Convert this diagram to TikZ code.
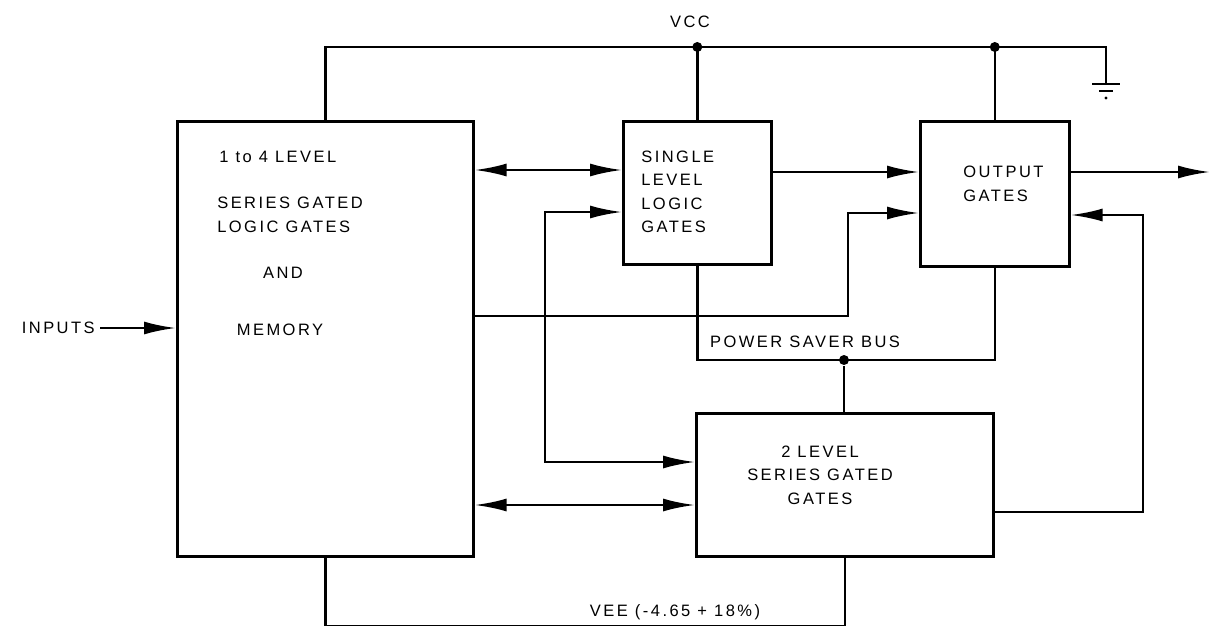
\documentclass[tikz,border=0pt]{standalone}
\usepackage{fontspec}
\setmainfont{Liberation Sans}[LetterSpace=15]
\usetikzlibrary{positioning}
\usetikzlibrary{calc}
\usetikzlibrary{arrows.meta}

\begin{document}
\begin{tikzpicture}[x=1pt, y=-1pt, line width=2.6pt,
    >={Latex[length=32pt,width=13pt]},
    block/.style={draw, line width=2.6pt, anchor=north west, inner sep=0pt},
    lbl/.style={font=\fontsize{16.5}{23.5}\selectfont, inner sep=0pt},
    junction/.style={circle, fill, inner sep=0pt, minimum size=10pt}]
\useasboundingbox (0,0) rectangle (1212,626);

% --- blocks ---
\node[block, minimum width=296pt, minimum height=435pt] (mem) at (176,120) {};
\node[block, minimum width=148pt, minimum height=143pt] (single) at (622,120) {};
\node[block, minimum width=149pt, minimum height=145pt] (outg) at (919,120) {};
\node[block, minimum width=297pt, minimum height=143pt] (twolvl) at (695,412) {};

% --- texts ---
\node[lbl, anchor=west] (memA) at (218,157) {1 to 4 LEVEL};
\node[lbl, anchor=west, align=left] (memB) at (216,215) {SERIES GATED\\LOGIC GATES};
\node[lbl] (memC) at (283,273) {AND};
\node[lbl] (memD) at (280,330) {MEMORY};
\node[lbl, anchor=west, align=left] (singleT) at (640,192) {SINGLE\\LEVEL\\LOGIC\\GATES};
\node[lbl, anchor=west, align=left] (outT) at (962,184) {OUTPUT\\GATES};
\node[lbl, align=center] (twolvlT) at (820,475) {2 LEVEL\\SERIES GATED\\GATES};
\node[lbl, anchor=east] (inputs) at (96,328) {INPUTS};
\node[lbl] (vcc) at (690,22) {VCC};
\node[lbl] (bus) at (805,342) {POWER SAVER BUS};
\node[lbl] (vee) at (675,612) {VEE (-4.65 + 18\%)};

% --- VCC rail and ground ---
\coordinate (vccL) at (324,47);
\coordinate (gnd) at (1106,84);
\draw (mem.north) |- (vccL) -| (gnd);
\draw (single.north) -- (single.north |- vccL) node[junction] (vccA) {};
\draw (outg.north) -- (outg.north |- vccL) node[junction] (vccB) {};
\draw[line width=2pt] ([xshift=-14pt]gnd) -- ([xshift=14pt]gnd);
\draw[line width=2pt] ([shift={(-7,7)}]gnd) -- ([shift={(7,7)}]gnd);
\fill ([yshift=-14pt]gnd) circle (1.6pt);

% --- power saver bus ---
\coordinate (busJ) at (844,360);
\draw (single.south) |- (busJ) -| (outg.south);
\node[junction] (busdot) at (busJ) {};
\draw (busdot) -- (busdot |- twolvl.north);

% --- VEE rail ---
\draw (mem.south) -- ++(0,69) -| (twolvl.south);

% --- signal paths ---
\coordinate (outpin) at (1210,172);
\draw[->] ([xshift=4pt]inputs.east) -- (mem.west |- inputs.east);
\draw[<->] (mem.east |- 0,170) -- (single.west |- 0,170);
\draw[<->] (single.west |- 0,212) -| (545,462) -- (twolvl.west |- 0,462);
\draw[->] (single.east |- 0,172) -- (outg.west |- 0,172);
\draw[->] (mem.east |- 0,316) -| (848,213) -- (outg.west |- 0,213);
\draw[->] (outg.east |- outpin) -- (outpin);
\draw[->] (twolvl.east |- 0,512) -| (1143,215) -- (outg.east |- 0,215);
\draw[<->] (mem.east |- 0,505) -- (twolvl.west |- 0,505);
\end{tikzpicture}
\end{document}
